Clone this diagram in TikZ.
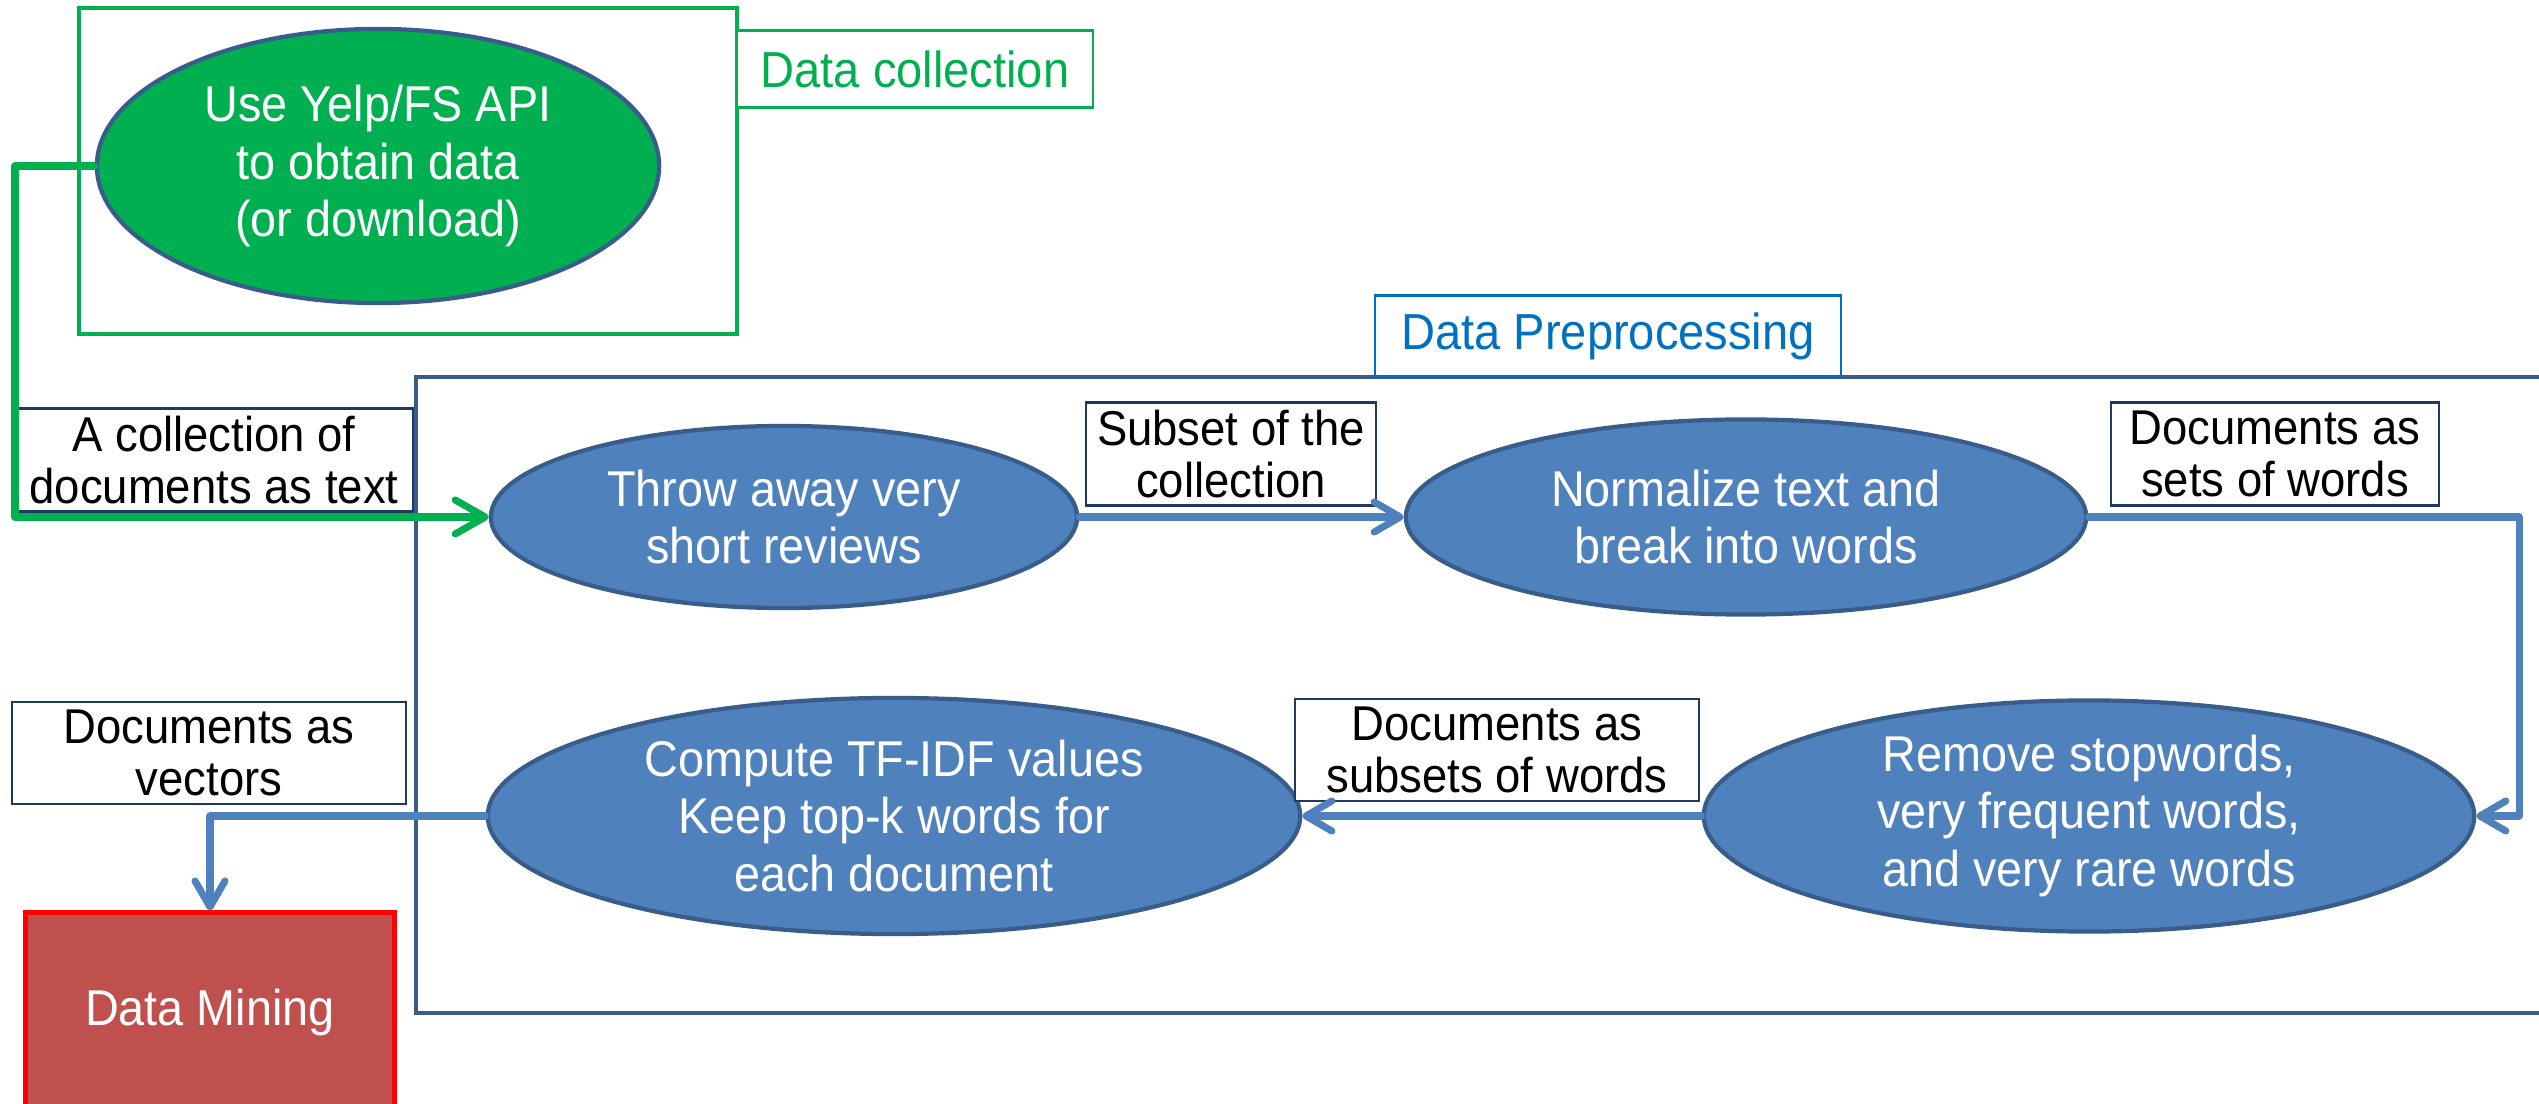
\documentclass[tikz,border=0pt]{standalone}
\usepackage{fontspec}
\setmainfont[FakeStretch=0.93]{Liberation Sans}
\usetikzlibrary{shapes.geometric,arrows.meta}

\definecolor{collgreen}{HTML}{00B050}
\definecolor{stagefill}{HTML}{4F81BD}
\definecolor{stageline}{HTML}{385D8A}
\definecolor{labelline}{HTML}{1F3864}
\definecolor{prepblue}{HTML}{0070C0}
\definecolor{minefill}{HTML}{C0504D}

\tikzset{
  stage/.style={ellipse, draw=stageline, line width=1.2pt, fill=stagefill,
    text=white, align=center, inner sep=0pt,
    font=\fontsize{14.3}{16.4}\selectfont},
  flowlabel/.style={draw=labelline, line width=0.6pt, fill=white,
    align=center, inner sep=0pt, font=\fontsize{13.9}{14.6}\selectfont},
  blueflow/.style={draw=stagefill, line width=2pt, line cap=round, line join=round,
    -{Straight Barb[length=0.26cm,width=0.3cm,round]}},
  greenflow/.style={draw=collgreen, line width=2pt, line cap=round, line join=round,
    -{Straight Barb[length=0.3cm,width=0.34cm,round]}},
}

\begin{document}
\begin{tikzpicture}[x=0.01cm,y=-0.01cm]
\useasboundingbox (0,0) rectangle (2539,1104);

% data collection
\draw[collgreen, line width=1.4pt] (79,8) rectangle (737,334);
\node[flowlabel, draw=collgreen, text=collgreen, font=\fontsize{14.4}{16}\selectfont,
  minimum width=3.56cm, minimum height=0.77cm] (colltitle) at (915,69) {Data collection};
\node[stage, fill=collgreen, minimum width=5.62cm, minimum height=2.74cm]
  (api) at (378,166) {Use Yelp/FS API\\to obtain data\\(or download)};

% preprocessing frame
\draw[stageline, line width=1.1pt] (416,377) rectangle (2600,1013);
\node[flowlabel, draw=prepblue, text=prepblue, font=\fontsize{14.4}{16}\selectfont,
  minimum width=4.66cm, minimum height=0.81cm] (preptitle) at (1608,336) {Data Preprocessing};

% stages
\node[stage, minimum width=5.86cm, minimum height=1.82cm] (throw) at (784,517)
  {Throw away very\\short reviews};
\node[stage, minimum width=6.8cm, minimum height=1.95cm] (normalize) at (1746,517)
  {Normalize text and\\break into words};
\node[stage, minimum width=7.7cm, minimum height=2.31cm] (remove) at (2089,816)
  {Remove stopwords,\\very frequent words,\\and very rare words};
\node[stage, minimum width=8.12cm, minimum height=2.36cm] (tfidf) at (894,816)
  {Compute TF-IDF values\\Keep top-k words for\\each document};

% data mining
\node[draw=red, line width=1.4pt, fill=minefill, text=white,
  font=\fontsize{14.3}{16}\selectfont, minimum width=3.68cm, minimum height=2cm]
  (mining) at (210,1013) {Data Mining};

% labels
\node[flowlabel, minimum width=3.97cm, minimum height=1.03cm] (textlabel) at (214,460)
  {A collection of\\documents as text};
\node[flowlabel, minimum width=2.9cm, minimum height=1.03cm] (subsetlabel) at (1231,454)
  {Subset of the\\collection};
\node[flowlabel, minimum width=3.27cm, minimum height=1.03cm] (setslabel) at (2275,454)
  {Documents as\\sets of words};
\node[flowlabel, minimum width=4.04cm, minimum height=1.02cm] (subsetslabel) at (1497,750)
  {Documents as\\subsets of words};
\node[flowlabel, minimum width=3.94cm, minimum height=1.02cm] (vectorlabel) at (209,753)
  {Documents as\\vectors};

% connectors
\coordinate (gbend) at (15,166);
\coordinate (rbend) at (2519,517);
\draw[greenflow] (api.west) -- (gbend) |- (throw.west);
\draw[blueflow] (throw.east) -- (normalize.west);
\draw[blueflow] (normalize.east) -- (rbend) |- (remove.east);
\draw[blueflow] (remove.west) -- (tfidf.east);
\draw[blueflow] (tfidf.west) -| (mining.north);

\end{tikzpicture}
\end{document}
